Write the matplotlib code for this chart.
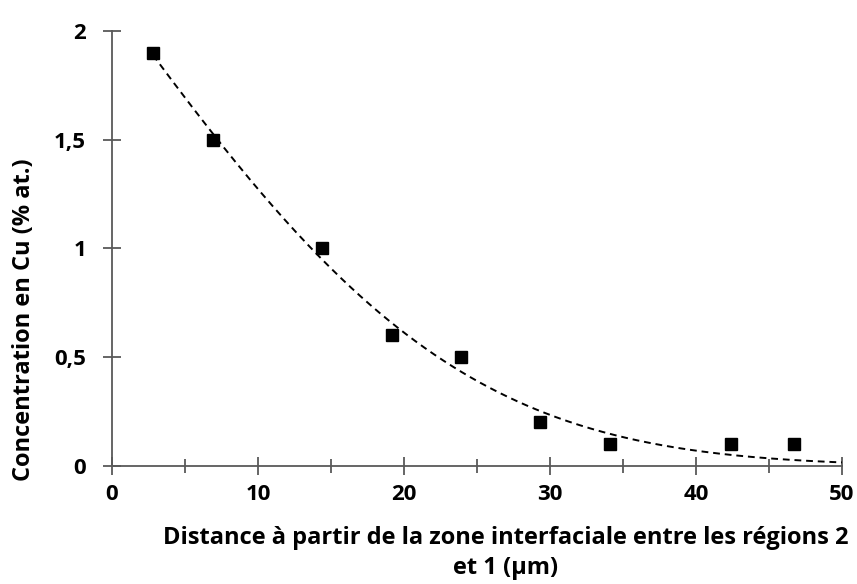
import math
import numpy as np
import matplotlib
matplotlib.use("Agg")
import matplotlib.pyplot as plt
from matplotlib.ticker import MultipleLocator, FuncFormatter

# Cu concentration profile across the interfacial zone
distance_um = [2.8, 6.9, 14.4, 19.2, 23.9, 29.3, 34.1, 42.4, 46.7]
cu_at_pct = [1.9, 1.5, 1.0, 0.6, 0.5, 0.2, 0.1, 0.1, 0.1]

x_ticks = [0, 10, 20, 30, 40, 50]
y_ticks = [0, 0.5, 1, 1.5, 2]

plt.rcParams['font.family'] = ['Open Sans', 'DejaVu Sans']
plt.rcParams['font.weight'] = 'bold'

erfc = np.vectorize(math.erfc)

# least-squares diffusion profile C = A * erfc(x / L)
xd = np.asarray(distance_um)
yd = np.asarray(cu_at_pct)
best = None
for L in np.arange(10.0, 60.0, 0.01):
    f = erfc(xd / L)
    A = float(np.dot(yd, f) / np.dot(f, f))
    sse = float(np.sum((yd - A * f) ** 2))
    if best is None or sse < best[0]:
        best = (sse, A, L)
_, A_fit, L_fit = best

fig = plt.figure(figsize=(8.57, 5.84), dpi=100)
ax = fig.add_axes([0.1307, 0.2021, 0.8518, 0.7448])

xt = np.linspace(xd.min(), 50, 300)
ax.plot(xt, A_fit * erfc(xt / L_fit), color='black', lw=1.4, ls=(0, (3.5, 2.5)), zorder=2)

ax.plot(distance_um, cu_at_pct, ls='none', marker='s', ms=9, color='black', zorder=3)

ax.set_xlim(0, 50)
ax.set_ylim(0, 2)
ax.set_xticks(x_ticks)
ax.set_yticks(y_ticks)
ax.xaxis.set_minor_locator(MultipleLocator(5))
ax.yaxis.set_major_formatter(FuncFormatter(lambda v, p: f"{v:g}".replace('.', ',')))

for s in ['top', 'right']:
    ax.spines[s].set_visible(False)
for s in ['left', 'bottom']:
    ax.spines[s].set_color('#595959')
    ax.spines[s].set_linewidth(1.3)

ax.tick_params(axis='both', which='major', direction='inout', length=13.5, width=1.3,
               color='#595959', labelsize=16)
ax.tick_params(axis='x', which='minor', direction='inout', length=9.5, width=1.3, color='#595959')
ax.tick_params(axis='x', which='major', pad=6)
ax.tick_params(axis='y', which='major', pad=12)
for lab in ax.get_xticklabels() + ax.get_yticklabels():
    lab.set_fontweight('bold')

fig.text(0.590, 0.053, "Distance à partir de la zone interfaciale entre les régions 2\net 1 (µm)",
         ha='center', va='center', fontsize=17, fontweight='bold', linespacing=1.3)
fig.text(0.028, 0.452, "Concentration en Cu (% at.)", rotation=90, ha='center', va='center',
         fontsize=17, fontweight='bold')

fig.savefig("out.png", dpi=100)
